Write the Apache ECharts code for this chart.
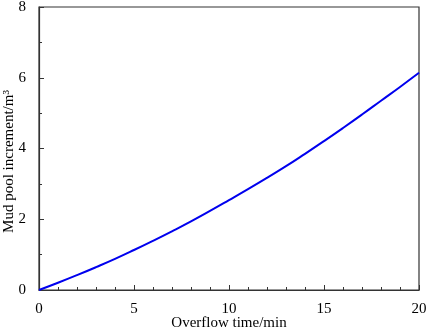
<!DOCTYPE html>
<html>
<head>
<meta charset="utf-8">
<script src="https://cdn.jsdelivr.net/npm/echarts@6/dist/echarts.min.js"></script>
<style>
  html, body { margin: 0; padding: 0; background: #fff; }
  #chart { width: 429px; height: 332px; }
</style>
</head>
<body>
<div id="chart"></div>
<script>
// overflow time (min) and mud pool increment (m3)
var times = [0, 1, 2, 3, 4, 5, 6, 7, 8, 9, 10, 11, 12, 13, 14, 15, 16, 17, 18, 19, 20];
var increments = [0, 0.205, 0.42, 0.645, 0.88, 1.13, 1.39, 1.66, 1.94, 2.235, 2.54,
  2.85, 3.17, 3.5, 3.85, 4.21, 4.58, 4.96, 5.35, 5.74, 6.14];

var chart = echarts.init(document.getElementById('chart'));
var font = 'Liberation Serif';

var option = {
  animation: false,
  grid: {
    left: 39,
    right: 10,
    top: 7,
    bottom: 42,
    containLabel: false,
    outerBoundsMode: 'none',
    show: true,
    borderColor: '#333',
    borderWidth: 1.2
  },
  xAxis: {
    type: 'value',
    min: 0,
    max: 20,
    interval: 5,
    name: 'Overflow time/min',
    nameLocation: 'middle',
    nameGap: 26,
    nameMoveOverlap: false,
    nameTextStyle: { fontFamily: font, fontSize: 15, color: '#000' },
    axisLine: { lineStyle: { color: '#333', width: 1.2 } },
    axisTick: { inside: true, length: 5, lineStyle: { color: '#333' } },
    minorTick: { show: true, splitNumber: 5, length: 3, lineStyle: { color: '#333' } },
    axisLabel: { fontFamily: font, fontSize: 15, color: '#000', margin: 12 },
    splitLine: { show: false }
  },
  yAxis: {
    type: 'value',
    min: 0,
    max: 8,
    interval: 2,
    name: 'Mud pool increment/m³',
    nameLocation: 'middle',
    nameGap: 22,
    nameMoveOverlap: false,
    nameTextStyle: { fontFamily: font, fontSize: 15, color: '#000', padding: [0, 26, 0, 0] },
    axisLine: { lineStyle: { color: '#333', width: 1.2 } },
    axisTick: { inside: true, length: 5, lineStyle: { color: '#333' } },
    minorTick: { show: true, splitNumber: 2, length: 3, lineStyle: { color: '#333' } },
    axisLabel: { fontFamily: font, fontSize: 15, color: '#000', margin: 13 },
    splitLine: { show: false }
  },
  series: [{
    type: 'line',
    data: times.map(function (t, i) { return [t, increments[i]]; }),
    smooth: true,
    showSymbol: false,
    lineStyle: { color: '#0000ee', width: 2 }
  }]
};

chart.setOption(option);
</script>
</body>
</html>
